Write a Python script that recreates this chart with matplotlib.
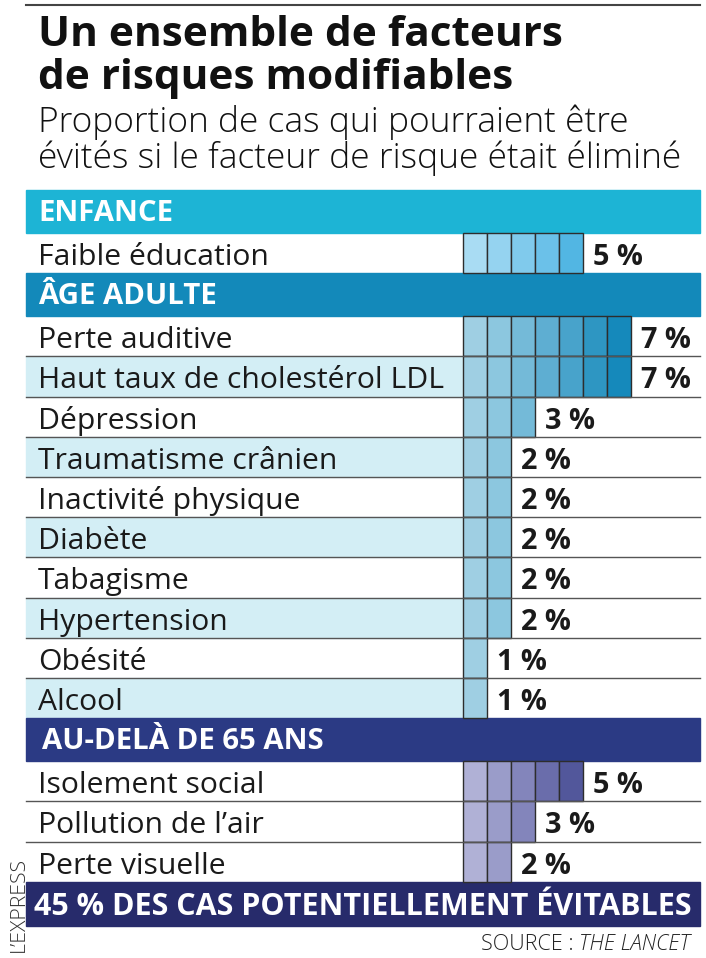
import matplotlib.pyplot as plt
from matplotlib.patches import Rectangle

# data
enfance_labels = ["Faible éducation"]
enfance_values = [5]
adulte_labels = ["Perte auditive", "Haut taux de cholestérol LDL", "Dépression",
                 "Traumatisme crânien", "Inactivité physique", "Diabète",
                 "Tabagisme", "Hypertension", "Obésité", "Alcool"]
adulte_values = [7, 7, 3, 2, 2, 2, 2, 2, 1, 1]
senior_labels = ["Isolement social", "Pollution de l\u2019air", "Perte visuelle"]
senior_values = [5, 3, 2]
section_titles = ["ENFANCE", "ÂGE ADULTE", "AU-DELÀ DE 65 ANS"]
total_text = "45 % DES CAS POTENTIELLEMENT ÉVITABLES"

enf_colors = ['#a9dcf3', '#95d3f0', '#80caec', '#6bc1e9', '#52b6e3']
adu_colors = ['#9fcfe3', '#8cc7df', '#74bad8', '#5eaed2', '#48a3cb', '#2e96c2', '#1589bb']
sen_colors = ['#b0b1d6', '#9a9cc9', '#8385bb', '#6a6dab', '#52579b']
band_colors = ['#1db4d5', '#1389ba', '#2b3a84']
shade = '#d3eef5'

W, H = 706, 958
fig = plt.figure(figsize=(W / 100, H / 100), dpi=100)
ax = fig.add_axes([0, 0, 1, 1])
ax.set_xlim(0, W)
ax.set_ylim(H, 0)
ax.axis('off')
renderer = fig.canvas.get_renderer()

FONT = 'Open Sans'


def fit_size(txt, width, **kw):
    # font size that makes txt about `width` pixels wide
    t = ax.text(0, 0, txt, fontsize=20, **kw)
    w = t.get_window_extent(renderer).width
    t.remove()
    return 20 * width / w


x_left, x_right = 26, 700
bar_x0, cell_w = 463, 24
band_h, row_h = 43, 40.2

# top rule + titles
ax.plot([x_left, x_right], [5, 5], color='#444444', lw=1.5)
ts = fit_size("Un ensemble de facteurs", 525, family=FONT, fontweight='bold')
ax.text(38, 46, "Un ensemble de facteurs", fontsize=ts, fontweight='bold',
        family=FONT, color='#111111')
ax.text(38, 89, "de risques modifiables", fontsize=ts, fontweight='bold',
        family=FONT, color='#111111')
ss = fit_size("Proportion de cas qui pourraient être", 592, family=FONT,
              fontweight='light')
ax.text(38, 132, "Proportion de cas qui pourraient être", fontsize=ss,
        fontweight='light', family=FONT, color='#111111')
ax.text(38, 168, "évités si le facteur de risque était éliminé", fontsize=ss,
        fontweight='light', family=FONT, color='#111111')

sections = [
    (section_titles[0], enfance_labels, enfance_values, enf_colors, False),
    (section_titles[1], adulte_labels, adulte_values, adu_colors, True),
    (section_titles[2], senior_labels, senior_values, sen_colors, False),
]

ls = fit_size("Haut taux de cholestérol LDL", 405, family=FONT)
hs = fit_size("ÂGE ADULTE", 179, family=FONT, fontweight='bold')
ps = fit_size("7 %", 50, family=FONT, fontweight='bold')

y = 190
for k, (title, labels, values, colors, alternate) in enumerate(sections):
    ax.add_patch(Rectangle((x_left, y), x_right - x_left, band_h,
                           color=band_colors[k], zorder=1))
    ax.text(38 if k < 2 else 42, y + 31, title, fontsize=hs, fontweight='bold',
            family=FONT, color='white', zorder=3)
    y += band_h
    for j, (lab, val) in enumerate(zip(labels, values)):
        if alternate and j % 2 == 1:
            ax.add_patch(Rectangle((x_left, y), bar_x0 - x_left, row_h,
                                   color=shade, zorder=0))
        yc = y + row_h / 2
        for i in range(val):
            ax.barh(yc, cell_w, left=bar_x0 + i * cell_w, height=row_h,
                    color=colors[i], edgecolor='#2d2d2d', linewidth=1, zorder=2)
        ax.text(38, y + 32, lab, fontsize=ls, family=FONT, color='#1a1a1a', zorder=3)
        ax.text(bar_x0 + val * cell_w + 10, y + 32, f"{val} %", fontsize=ps,
                fontweight='bold', family=FONT, color='#1a1a1a', zorder=3)
        if j < len(labels) - 1:
            ax.plot([x_left, x_right], [y + row_h, y + row_h], color='#555555',
                    lw=1, zorder=2.5)
        y += row_h

# total band
ax.add_patch(Rectangle((x_left, y), x_right - x_left, 44, color='#272b6b', zorder=1))
bs = fit_size(total_text, 659, family=FONT, fontweight='bold')
ax.text(34, y + 33, total_text, fontsize=bs, fontweight='bold', family=FONT,
        color='white', zorder=3)

# source, right aligned
src = ax.text(690, 950, "THE LANCET", fontsize=15.5, style='italic',
              fontweight='light', family=FONT, color='#222222', ha='right')
sw = src.get_window_extent(renderer).width
ax.text(690 - sw, 950, "SOURCE : ", fontsize=15.5, fontweight='light',
        family=FONT, color='#222222', ha='right')

es = fit_size("L\u2019EXPRESS", 95, family=FONT, fontweight='light')
ax.text(19, 952, "L\u2019EXPRESS", fontsize=es, fontweight='light', family=FONT,
        color='#333333', rotation=90, ha='center', va='bottom')

fig.savefig('out.png', dpi=100)
